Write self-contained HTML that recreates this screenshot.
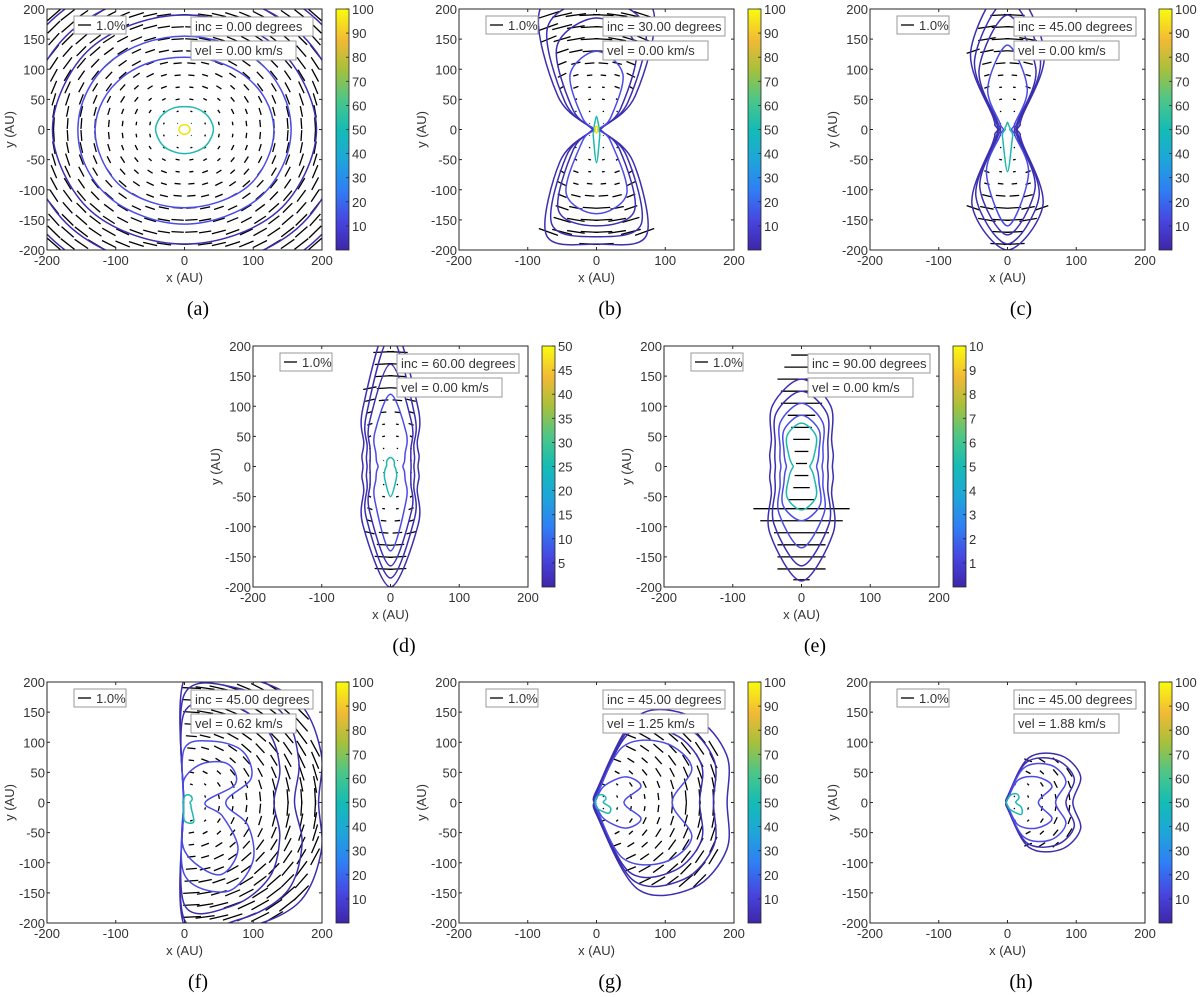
<!DOCTYPE html>
<html><head><meta charset="utf-8">
<style>
html,body{margin:0;padding:0;background:#fff;}
svg{display:block;font-family:"Liberation Sans",sans-serif;}
.tk{font-size:13px;fill:#333;}
.cap{font-family:"Liberation Serif",serif;font-size:20px;fill:#000;}
</style></head>
<body>
<svg id="fig" width="1200" height="997" viewBox="0 0 1200 997" xmlns="http://www.w3.org/2000/svg">
<defs>
<linearGradient id="parula" x1="0" y1="1" x2="0" y2="0">
<stop offset="0" stop-color="#3e26a8"/><stop offset="0.12" stop-color="#4745e0"/>
<stop offset="0.25" stop-color="#2f7ff5"/><stop offset="0.38" stop-color="#1da7d8"/>
<stop offset="0.5" stop-color="#14bcb5"/><stop offset="0.62" stop-color="#4ac68a"/>
<stop offset="0.75" stop-color="#a8c03b"/><stop offset="0.87" stop-color="#f1b935"/>
<stop offset="1" stop-color="#f9fb0e"/>
</linearGradient>
</defs>
</svg>
<script>
// Panel definitions (data)
const panelIds = ['a','b','c','d','e','f','g','h'];
const panelInc = ['0.00','30.00','45.00','60.00','90.00','45.00','45.00','45.00'];
const panelVel = ['0.00','0.00','0.00','0.00','0.00','0.62','1.25','1.88'];
const panelCbarMax = [100,100,100,50,10,100,100,100];
const xTicks = [-200,-100,0,100,200];
const yTicks = [-200,-150,-100,-50,0,50,100,150,200];
// contour radii at 16 polar angles (deg, CCW from +x)
const ANG = [0,22.5,45,67.5,90,112.5,135,157.5,180,202.5,225,247.5,270,292.5,315,337.5];
const contoursA = [
 {c:'#3b2fb0', r:[265,265,265,265,265,265,265,265,265,265,265,265,265,265,265,265]},
 {c:'#3b2fb0', r:[228,230,232,230,228,230,232,230,228,230,232,230,228,230,232,230]},
 {c:'#3b2fb0', r:[192,190,192,190,190,190,192,190,192,190,192,190,190,190,192,190]},
 {c:'#4b4be6', r:[155,155,156,155,155,155,156,155,155,156,157,156,157,156,157,155]},
 {c:'#4b4be6', r:[130,128,125,122,120,122,125,128,130,130,132,130,130,130,132,130]},
 {c:'#1fb8b0', r:[42,41,40,39,38,39,40,41,42,41,41,40,40,40,41,41]},
 {c:'#f2e40c', r:[8,8,8,8,8,8,8,8,8,8,8,8,8,8,8,8]}];
const contoursB = [
 {c:'#3b2fb0', r:[3,10,80,215,250,215,80,10,3,10,75,190,190,190,75,10]},
 {c:'#3b2fb0', r:[2,8,65,185,215,185,65,8,2,8,62,170,178,170,62,8]},
 {c:'#3b2fb0', r:[2,7,50,150,185,150,50,7,2,7,48,145,160,145,48,7]},
 {c:'#4b4be6', r:[2,5,30,100,130,100,30,5,2,5,30,115,140,115,30,5]},
 {c:'#1fb8b0', r:[3,4,5,8,22,8,5,4,3,4,6,12,55,12,6,4]},
 {c:'#f2e40c', r:[2,2,3,4,6,4,3,2,2,2,3,4,6,4,3,2]}];
const contoursC = [
 {c:'#3b2fb0', r:[14,20,30,140,240,140,30,20,14,20,30,135,200,135,30,20]},
 {c:'#3b2fb0', r:[12,16,26,125,215,125,26,16,12,16,26,120,190,120,26,16]},
 {c:'#3b2fb0', r:[10,12,22,108,190,108,22,12,10,12,22,105,175,105,22,12]},
 {c:'#4b4be6', r:[6,8,16,75,140,75,16,8,6,8,16,80,160,80,16,8]},
 {c:'#1fb8b0', r:[3,4,5,6,12,6,5,4,3,5,10,18,70,18,10,5]}];
const contoursD = [
 {c:'#3b2fb0', r:[40,45,55,105,240,105,55,45,40,45,55,105,200,105,55,45]},
 {c:'#3b2fb0', r:[34,38,48,92,215,92,48,38,34,38,48,92,185,92,48,38]},
 {c:'#3b2fb0', r:[30,32,42,80,170,80,42,32,30,32,42,80,165,80,42,32]},
 {c:'#4b4be6', r:[18,22,30,60,120,60,30,22,18,22,30,60,140,60,30,22]},
 {c:'#1fb8b0', r:[6,6,8,12,15,12,8,6,6,8,12,22,50,22,12,8]}];
const contoursE = [
 {c:'#3b2fb0', r:[45,50,62,110,145,110,62,50,45,50,62,120,190,120,62,50]},
 {c:'#3b2fb0', r:[38,42,54,96,125,96,54,42,38,42,54,104,165,104,54,42]},
 {c:'#4b4be6', r:[30,34,44,80,105,80,44,34,30,34,44,85,135,85,44,34]},
 {c:'#4b4be6', r:[22,26,36,66,85,66,36,26,22,26,36,70,90,70,36,26]},
 {c:'#1fb8b0', r:[12,16,26,55,72,55,26,16,12,16,26,55,72,55,26,16]}];
const contoursF = [
 {c:'#3b2fb0', r:[195,215,235,225,205,3,2,2,2,2,2,3,205,225,235,215]},
 {c:'#3b2fb0', r:[160,180,205,205,180,3,2,2,2,2,2,3,195,210,210,185]},
 {c:'#3b2fb0', r:[130,150,170,175,150,3,2,2,2,2,2,3,170,185,175,150]},
 {c:'#4b4be6', r:[60,105,120,110,90,3,2,2,2,2,2,3,120,160,140,100]},
 {c:'#4b4be6', r:[30,80,90,70,40,3,2,2,2,2,2,3,80,130,110,60]},
 {c:'#1fb8b0', r:[8,12,14,14,10,3,2,2,2,2,2,3,30,35,14,10]}];
const contoursG = [
 {c:'#3b2fb0', r:[190,205,200,155,20,3,2,2,2,2,2,3,20,155,200,205]},
 {c:'#3b2fb0', r:[170,185,180,140,15,3,2,2,2,2,2,3,15,140,180,185]},
 {c:'#3b2fb0', r:[150,165,160,125,12,3,2,2,2,2,2,3,12,125,160,165]},
 {c:'#4b4be6', r:[110,150,140,100,10,3,2,2,2,2,2,3,10,100,140,150]},
 {c:'#4b4be6', r:[40,70,60,30,6,3,2,2,2,2,2,3,6,30,60,70]},
 {c:'#1fb8b0', r:[10,15,16,14,8,3,2,2,2,2,2,3,8,14,25,22]}];
const contoursH = [
 {c:'#3b2fb0', r:[95,115,110,80,10,3,2,2,2,2,2,3,10,80,110,115]},
 {c:'#3b2fb0', r:[85,105,100,72,8,3,2,2,2,2,2,3,8,72,100,105]},
 {c:'#4b4be6', r:[70,92,88,62,6,3,2,2,2,2,2,3,6,62,88,92]},
 {c:'#4b4be6', r:[45,70,60,40,5,3,2,2,2,2,2,3,5,40,60,70]},
 {c:'#1fb8b0', r:[12,18,20,14,5,3,2,2,2,2,2,3,5,14,28,22]}];
const panelContours = [contoursA,contoursB,contoursC,contoursD,contoursE,contoursF,contoursG,contoursH];
// polarization length (AU) by radius bin of 25 AU
const polLenA = [1,3,6,9,12,15,18,21,23,25,27,28];
const polLenB = [1,2,4,8,14,20,26,30,34,36,36,36];
const polLenF = [2,4,8,12,16,20,24,28,30,32,34,36];
const panelPol = [polLenA,polLenB,polLenB,polLenB,polLenB,polLenF,polLenF,polLenF];
// panel e horizontal bar half-lengths by y (AU)
const eRowsY =   [185,165,145,125,105,85,65,45,25,5,-15,-35,-55,-70,-90,-110,-130,-150,-170,-188];
const eRowsLen = [15,25,35,30,30,20,15,12,10,8,10,12,18,70,60,40,35,35,35,12];

// layout (not data)
const layout = [
 {x0:47,y0:9},{x0:459,y0:9},{x0:870,y0:9},
 {x0:253,y0:346},{x0:664,y0:346},
 {x0:47,y0:682},{x0:459,y0:682},{x0:870,y0:682}];
const W=275,H=241;
const svg=document.getElementById('fig');
const NS='http://www.w3.org/2000/svg';
function mk(tag,attrs,parent){const e=document.createElementNS(NS,tag);for(const k in attrs)e.setAttribute(k,attrs[k]);(parent||svg).appendChild(e);return e;}

function curvePath(pts,sx,sy){
  const n=pts.length;let d='';
  for(let i=0;i<n;i++){
    const p0=pts[(i-1+n)%n],p1=pts[i],p2=pts[(i+1)%n],p3=pts[(i+2)%n];
    if(i===0)d+='M'+sx(p1[0]).toFixed(1)+','+sy(p1[1]).toFixed(1);
    const c1=[p1[0]+(p2[0]-p0[0])/6,p1[1]+(p2[1]-p0[1])/6];
    const c2=[p2[0]-(p3[0]-p1[0])/6,p2[1]-(p3[1]-p1[1])/6];
    d+='C'+sx(c1[0]).toFixed(1)+','+sy(c1[1]).toFixed(1)+' '+sx(c2[0]).toFixed(1)+','+sy(c2[1]).toFixed(1)+' '+sx(p2[0]).toFixed(1)+','+sy(p2[1]).toFixed(1);
  }
  return d+'Z';
}
function inside(pts,x,y){let c=false;for(let i=0,j=pts.length-1;i<pts.length;j=i++){const a=pts[i],b=pts[j];if(((a[1]>y)!==(b[1]>y))&&(x<(b[0]-a[0])*(y-a[1])/(b[1]-a[1])+a[0]))c=!c;}return c;}

panelIds.forEach((id,pi)=>{
  const L=layout[pi];
  const sx=v=>L.x0+(v+200)/400*W;
  const sy=v=>L.y0+(200-v)/400*H;
  const g=mk('g',{});
  
  
  const clip=mk('clipPath',{id:'clip'+id},svg);
  mk('rect',{x:L.x0,y:L.y0,width:W,height:H},clip);
  mk('rect',{x:L.x0,y:L.y0,width:W,height:H,fill:'#fff'},g);
  const plot=mk('g',{'clip-path':'url(#clip'+id+')'},g);
  const cs=panelContours[pi];
  const outerPts=cs[0].r.map((r,i)=>[r*Math.cos(ANG[i]*Math.PI/180),r*Math.sin(ANG[i]*Math.PI/180)]);
  const vg=mk('g',{stroke:'#000','stroke-width':1.3},plot);
  
  
  if(id==='e'){
    eRowsY.forEach((yv,i)=>{
      const l=mk('line',{x1:sx(-eRowsLen[i]),x2:sx(eRowsLen[i]),y1:sy(yv),y2:sy(yv)},vg);
      
      
    });
  } else {
    const tbl=panelPol[pi];
    for(let gx=-190;gx<=190;gx+=20){for(let gy=-190;gy<=190;gy+=20){
      if(id!=='a'&&!inside(outerPts,gx,gy*0.97))continue;
      const r=Math.hypot(gx,gy);
      const len=tbl[Math.min(tbl.length-1,Math.floor(r/25))]/2;
      const ang=Math.atan2(gy,gx)+Math.PI/2;
      const dx=Math.cos(ang)*len,dy=Math.sin(ang)*len;
      const l=mk('line',{x1:sx(gx-dx),y1:sy(gy-dy),x2:sx(gx+dx),y2:sy(gy+dy)},vg);
      
      
    }}
  }
  cs.forEach((c,ci)=>{
    const pts=c.r.map((r,i)=>[r*Math.cos(ANG[i]*Math.PI/180),r*Math.sin(ANG[i]*Math.PI/180)]);
    const p=mk('path',{d:curvePath(pts,sx,sy),fill:'none',stroke:c.c,'stroke-width':1.5},plot);
    
    
  });
  mk('rect',{x:L.x0,y:L.y0,width:W,height:H,fill:'none',stroke:'#262626','stroke-width':1},g);
  xTicks.forEach(t=>{
    mk('line',{x1:sx(t),x2:sx(t),y1:L.y0+H,y2:L.y0+H-3,stroke:'#262626'},g);
    mk('line',{x1:sx(t),x2:sx(t),y1:L.y0,y2:L.y0+3,stroke:'#262626'},g);
    const tx=mk('text',{x:sx(t),y:L.y0+H+15,'text-anchor':'middle',class:'tk'},g);tx.textContent=t;
    
    
  });
  yTicks.forEach(t=>{
    mk('line',{x1:L.x0,x2:L.x0+3,y1:sy(t),y2:sy(t),stroke:'#262626'},g);
    mk('line',{x1:L.x0+W,x2:L.x0+W-3,y1:sy(t),y2:sy(t),stroke:'#262626'},g);
    const tx=mk('text',{x:L.x0-2,y:sy(t)+5,'text-anchor':'end',class:'tk'},g);tx.textContent=t;
    
    
  });
  const xl=mk('text',{x:L.x0+W/2,y:L.y0+H+32,'text-anchor':'middle',class:'tk'},g);xl.textContent='x (AU)';
  
  
  const yl=mk('text',{x:0,y:0,'text-anchor':'middle',class:'tk',transform:'translate('+(L.x0-33)+','+(L.y0+H/2)+') rotate(-90)'},g);yl.textContent='y (AU)';
  
  
  const lg=mk('g',{},g);
  
  
  mk('rect',{x:L.x0+27,y:L.y0+7,width:52,height:18,fill:'#fff',stroke:'#999'},lg);
  mk('line',{x1:L.x0+31,x2:L.x0+44,y1:L.y0+16,y2:L.y0+16,stroke:'#000','stroke-width':1.3},lg);
  const lt=mk('text',{x:L.x0+49,y:L.y0+21,class:'tk'},lg);lt.textContent='1.0%';
  const ig=mk('g',{},g);
  
  
  mk('rect',{x:L.x0+144,y:L.y0+8,width:122,height:19,fill:'#fff',stroke:'#999'},ig);
  const it=mk('text',{x:L.x0+148,y:L.y0+22,class:'tk','xml:space':'preserve'},ig);it.textContent='inc = '+(panelInc[pi].length<5?' ':'')+panelInc[pi]+' degrees';
  const vgb=mk('g',{},g);
  
  
  mk('rect',{x:L.x0+144,y:L.y0+32,width:105,height:19,fill:'#fff',stroke:'#999'},vgb);
  const vt=mk('text',{x:L.x0+148,y:L.y0+46,class:'tk','xml:space':'preserve'},vgb);vt.textContent='vel =  '+panelVel[pi]+' km/s';
  const cbx=L.x0+289;
  const cb=mk('g',{},g);
  
  
  mk('rect',{x:cbx,y:L.y0,width:13,height:H,fill:'url(#parula)',stroke:'#262626','stroke-width':0.8},cb);
  const mx=panelCbarMax[pi];const step=mx/10;
  for(let k=1;k<=10;k++){
    const v=k*step;const yy=L.y0+H-v/mx*H;
    mk('line',{x1:cbx+13,x2:cbx+10,y1:yy,y2:yy,stroke:'#262626','stroke-width':0.8},cb);
    const t=mk('text',{x:cbx+16,y:yy+5,class:'tk'},cb);t.textContent=v;
  }
  const cap=mk('text',{x:L.x0+151,y:L.y0+H+65,'text-anchor':'middle',class:'cap'},g);cap.textContent='('+id+')';
  
  
});
</script>
</body></html>
